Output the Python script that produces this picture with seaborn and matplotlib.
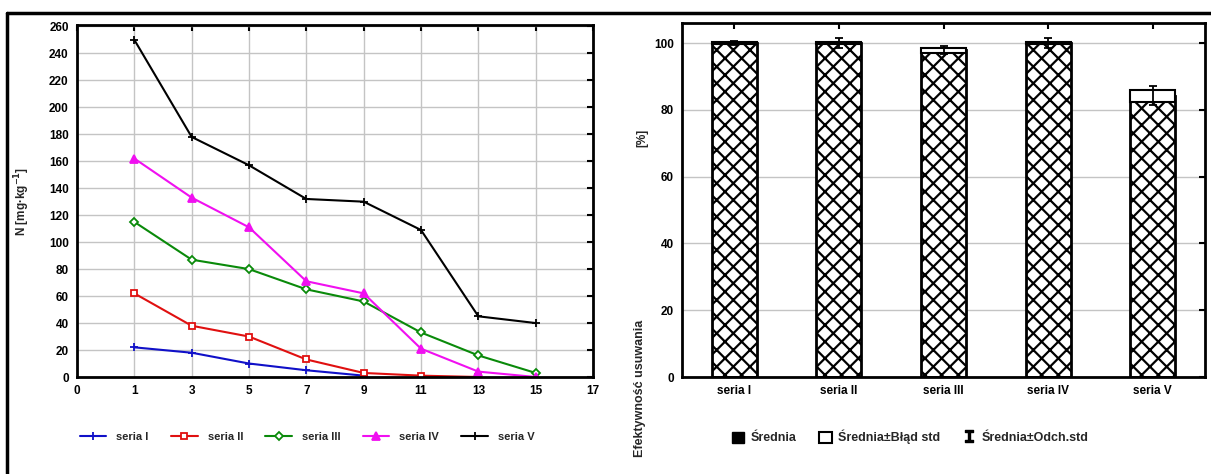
import numpy as np
import pandas as pd
import matplotlib.pyplot as plt
import seaborn as sns
from matplotlib.lines import Line2D
from matplotlib.patches import Patch

# left panel: N concentration per series
x_vals = [1, 3, 5, 7, 9, 11, 13, 15]
seria_1 = [22, 18, 10, 5, 1, np.nan, np.nan, np.nan]
seria_2 = [62, 38, 30, 13, 3, 1, 0, np.nan]
seria_3 = [115, 87, 80, 65, 56, 33, 16, 3]
seria_4 = [162, 133, 111, 71, 62, 21, 4, 0]
seria_5 = [250, 178, 157, 132, 130, 109, 45, 40]
series_names = ["seria I", "seria II", "seria III", "seria IV", "seria V"]
x_ticks = [-1, 1, 3, 5, 7, 9, 11, 13, 15, 17]
x_tick_labels = ["0", "1", "3", "5", "7", "9", "11", "13", "15", "17"]

# right panel: removal efficiency
categories = ["seria I", "seria II", "seria III", "seria IV", "seria V"]
means = [100, 100, 97.8, 100, 84.2]
std_err = [0.3, 0.3, 0.7, 0.3, 1.8]
std_dev = [0.6, 1.6, 1.2, 1.6, 2.8]

sns.set_theme(style="white")
plt.rcParams["font.family"] = ["Liberation Sans", "DejaVu Sans"]
plt.rcParams["font.weight"] = "bold"
plt.rcParams["hatch.linewidth"] = 1.6
FS = 8.5

fig = plt.figure(figsize=(12.11, 4.74), dpi=100)
W, H = 1211, 474


def px_axes(l, t, r, b):
    return fig.add_axes([l / W, 1 - b / H, (r - l) / W, (b - t) / H])


ax1 = px_axes(77, 25, 593, 377)
ax2 = px_axes(682, 23, 1205, 377)

# ---- left line chart ----
df = pd.DataFrame({"x": x_vals})
for name, vals in zip(series_names, [seria_1, seria_2, seria_3, seria_4, seria_5]):
    df[name] = vals
long = df.melt(id_vars="x", var_name="seria", value_name="N").dropna()

styles = {
    "seria I": dict(color="#1010c8", marker="+", mfc="#1010c8", ms=6),
    "seria II": dict(color="#e01010", marker="s", mfc="white", ms=5),
    "seria III": dict(color="#0a8a0a", marker="D", mfc="white", ms=4),
    "seria IV": dict(color="#f010f0", marker="^", mfc="#f010f0", ms=6),
    "seria V": dict(color="black", marker="+", mfc="black", ms=6),
}
handles = []
for name in series_names:
    st = styles[name]
    sub = long[long["seria"] == name]
    sns.lineplot(data=sub, x="x", y="N", ax=ax1, color=st["color"], lw=1.5,
                 marker=st["marker"], markersize=st["ms"],
                 markerfacecolor=st["mfc"], markeredgecolor=st["color"],
                 markeredgewidth=1.3, legend=False)
    handles.append(Line2D([], [], color=st["color"], lw=1.5, marker=st["marker"],
                          ms=st["ms"], mfc=st["mfc"], mec=st["color"], mew=1.3,
                          label=name))

ax1.set_xlim(-1, 17)
ax1.set_ylim(0, 261)
ax1.set_xticks(x_ticks)
ax1.set_xticklabels(x_tick_labels)
ax1.set_yticks(range(0, 261, 20))
ax1.grid(True, color="#c4c4c4", lw=1)
ax1.set_xlabel("")
ax1.set_ylabel("N [mg·kg$^{-1}$]", fontsize=FS, fontweight="bold", labelpad=12)
ax1.legend(handles=handles, loc="center", bbox_to_anchor=(0.446, -0.17), ncol=5,
           frameon=False, fontsize=FS - 0.5, handlelength=2.4, columnspacing=2.0,
           handletextpad=0.9)

# ---- right bar chart ----
pos = np.arange(len(categories))
sns.barplot(x=pos, y=means, ax=ax2, color="white", saturation=1,
            edgecolor="black", linewidth=2, width=0.43, errorbar=None,
            native_scale=True, zorder=2)
for p in ax2.patches:
    p.set_hatch("xx")
ax2.bar(pos, 2 * np.array(std_err), bottom=np.array(means) - np.array(std_err),
        width=0.43, color="white", edgecolor="black", lw=1.5, zorder=3)
ax2.errorbar(pos, means, yerr=std_dev, fmt="none", ecolor="black", elinewidth=1.3,
             capsize=3, capthick=1.3, zorder=4)

ax2.set_xlim(-0.5, 4.5)
ax2.set_ylim(0, 106)
ax2.set_xticks(pos)
ax2.set_xticklabels(categories)
ax2.set_yticks(range(0, 101, 20))
ax2.yaxis.grid(True, color="#c4c4c4", lw=1)
ax2.set_axisbelow(True)
ax2.set_ylabel("")
fig.text(640 / W, 1 - 388 / H, "Efektywność usuwania", rotation=90,
         ha="center", va="center", fontsize=FS + 0.5, fontweight="bold")
fig.text(642 / W, 1 - 138 / H, "[%]", rotation=90,
         ha="center", va="center", fontsize=FS, fontweight="bold")

bar_handles = [
    Patch(facecolor="black", edgecolor="black", label="Średnia"),
    Patch(facecolor="white", edgecolor="black", lw=1.5, label="Średnia±Błąd std"),
    Line2D([], [], color="black", lw=0, marker="$\\mathtt{I}$", ms=9,
           label="Średnia±Odch.std"),
]
ax2.legend(handles=bar_handles, loc="center", bbox_to_anchor=(0.436, -0.17), ncol=3,
           frameon=False, fontsize=FS + 0.5, handlelength=1.0, handleheight=1.0,
           columnspacing=1.8, handletextpad=0.5)

for ax in (ax1, ax2):
    for s in ax.spines.values():
        s.set_visible(True)
        s.set_color("black")
        s.set_linewidth(2)
    ax.tick_params(direction="in", length=4, width=1.5, top=True, right=True,
                   labelsize=FS, colors="black", pad=6)

# outer frame (top and left edges visible)
fig.add_artist(Line2D([7 / W, 1], [1 - 13 / H, 1 - 13 / H], color="black", lw=2.5,
                      transform=fig.transFigure))
fig.add_artist(Line2D([7 / W, 7 / W], [0, 1 - 13 / H], color="black", lw=2.5,
                      transform=fig.transFigure))

fig.savefig("out.png", dpi=100)
